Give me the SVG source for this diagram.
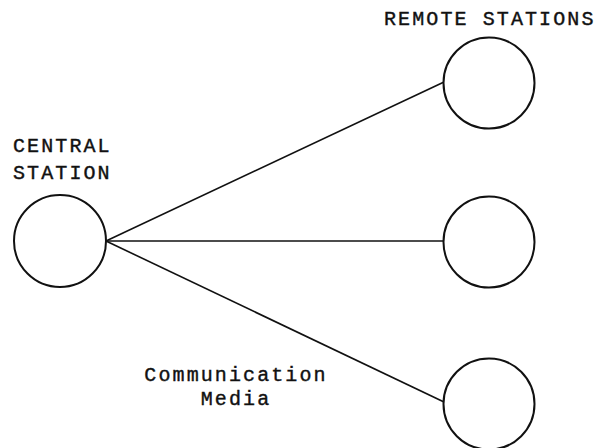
<svg xmlns="http://www.w3.org/2000/svg" width="594" height="448" viewBox="0 0 594 448">
<style>
.t{font-family:"Liberation Mono","Courier New",monospace;font-size:20px;letter-spacing:2.1px;fill:#111;stroke:#111;stroke-width:0.4}
.n{fill:#fff;stroke:#111;stroke-width:2}
.c{stroke:#111;stroke-width:1.6;fill:none}
</style>
<rect width="594" height="448" fill="#fff"/>
<g id="connectors">
<line class="c" x1="106" y1="241" x2="444" y2="82"/>
<line class="c" x1="106" y1="241" x2="443" y2="241"/>
<line class="c" x1="106" y1="241" x2="444" y2="402"/>
</g>
<g id="central">
<circle class="n" cx="60" cy="241" r="46"/>
<text class="t" x="13" y="152">CENTRAL</text>
<text class="t" x="13" y="179">STATION</text>
</g>
<g id="remote1">
<circle class="n" cx="489" cy="83" r="45.5"/>
<text class="t" x="384" y="25">REMOTE STATIONS</text>
</g>
<g id="remote2">
<circle class="n" cx="489" cy="242" r="45.5"/>
</g>
<g id="remote3">
<circle class="n" cx="489" cy="404" r="45.5"/>
</g>
<g id="media">
<text class="t" x="236" y="381" text-anchor="middle">Communication</text>
<text class="t" x="236" y="405" text-anchor="middle">Media</text>
</g>
</svg>
